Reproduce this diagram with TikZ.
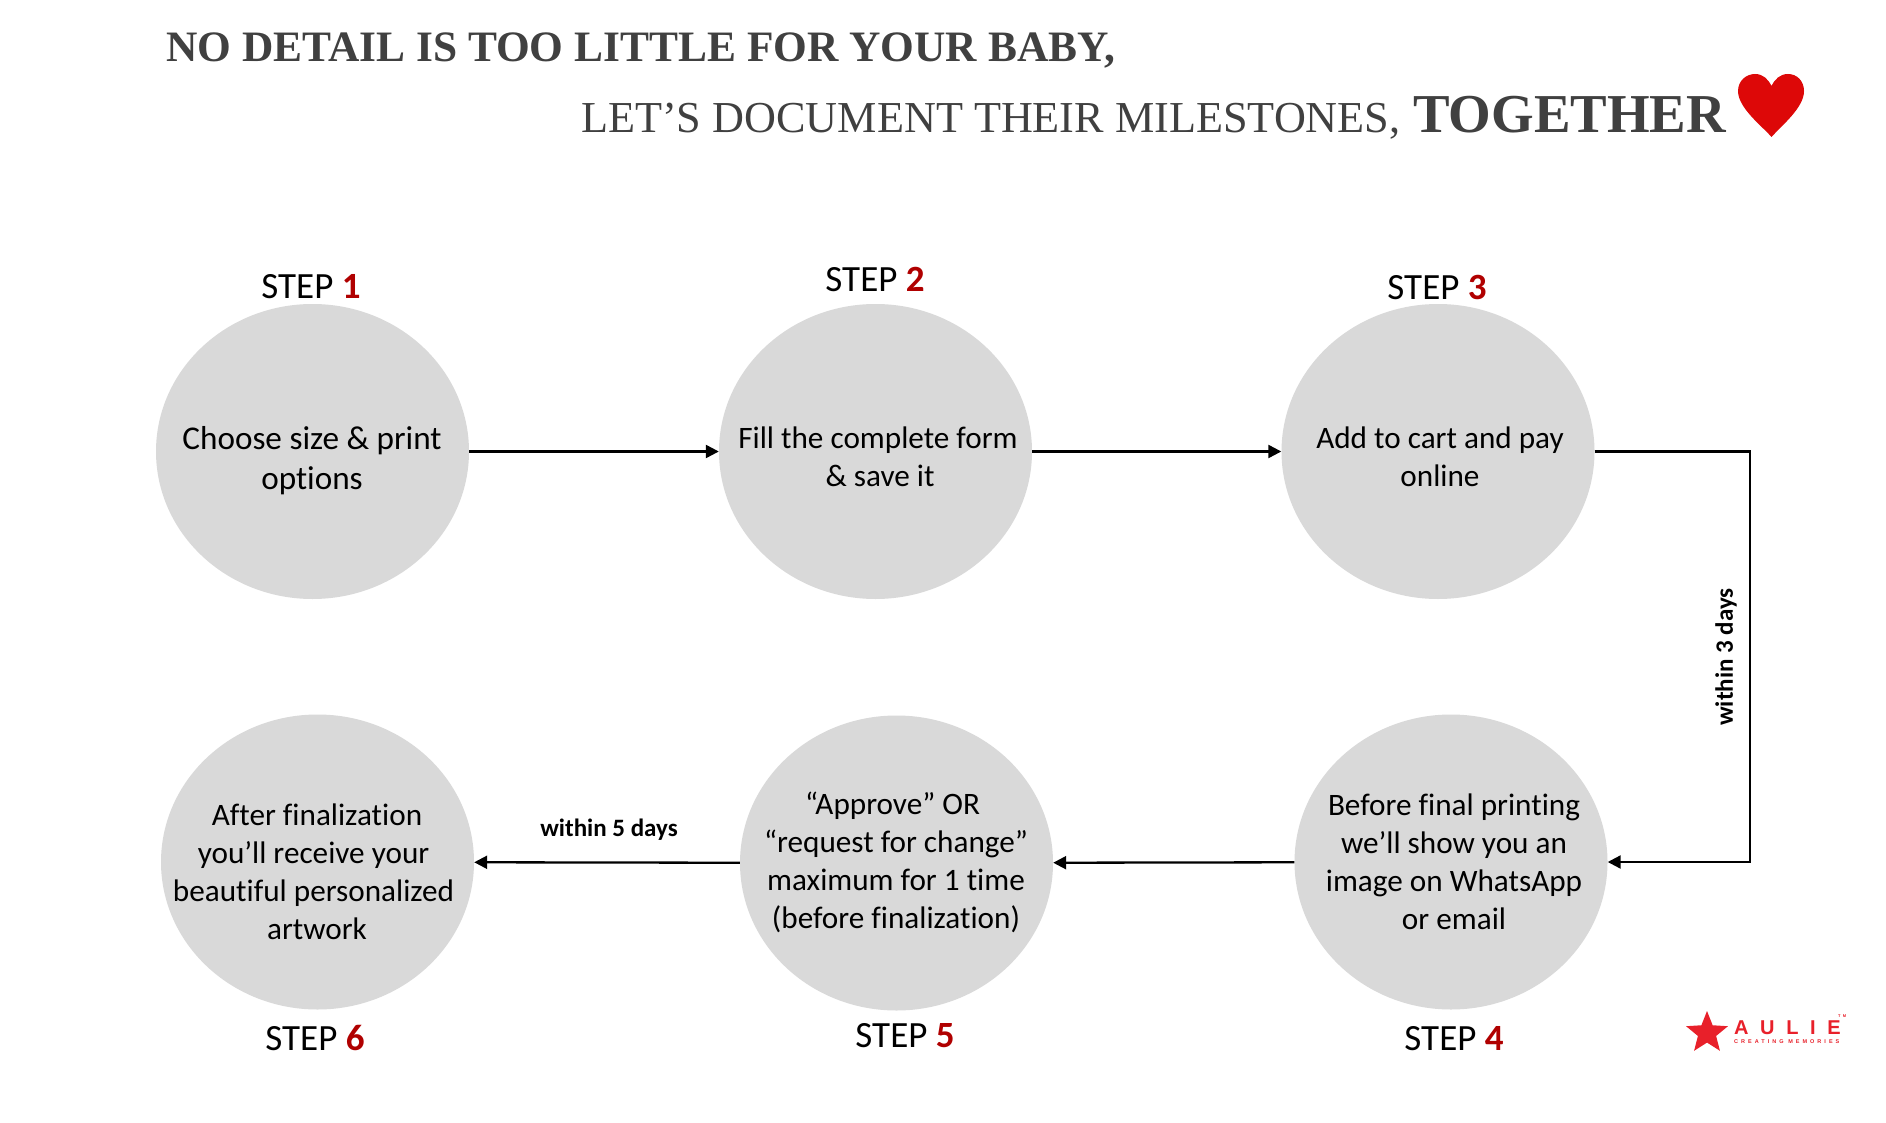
\documentclass[tikz,border=0pt]{standalone}
\usepackage{fontspec}
\setmainfont{Carlito}[Ligatures=NoCommon]
\newfontfamily\titlefont{Liberation Serif}
\newfontfamily\logofont{Liberation Sans}[LetterSpace=58]
\newfontfamily\logosmall{Liberation Sans}[LetterSpace=55]
\usetikzlibrary{shapes.geometric,arrows.meta}
\definecolor{disc}{HTML}{D9D9D9}
\definecolor{stepred}{HTML}{B00000}
\definecolor{titlegrey}{HTML}{404040}
\definecolor{heartred}{HTML}{DD0808}
\definecolor{logored}{HTML}{E8202A}
\tikzset{
  disc/.style={ellipse,fill=disc,draw=none,minimum width=313pt,minimum height=295pt,inner sep=0pt},
  body/.style={align=center,font=\fontsize{31.2}{38}\selectfont,text=black,inner sep=0pt},
  steplabel/.style={font=\fontsize{37}{40}\selectfont,text=black,inner sep=0pt},
  conn/.style={draw=black,line width=2.3pt,-{Triangle[length=13pt,width=13pt]}},
  note/.style={font=\bfseries\fontsize{25}{28}\selectfont,text=black,inner sep=0pt},
  titleline/.style={anchor=base west,inner sep=0pt,text=titlegrey}
}
\newcommand{\stepnum}[1]{\textcolor{stepred}{\bfseries #1}}
\begin{document}
\begin{tikzpicture}[x=1pt,y=-1pt]
\useasboundingbox (0,0) rectangle (1886,1123);
\fill[white] (0,0) rectangle (1886,1123);
\node[titleline,font=\titlefont\bfseries\fontsize{43.4}{50}\selectfont] (t1) at (166,61.5) {NO DETAIL IS TOO LITTLE FOR YOUR BABY,};
\node[titleline,font=\titlefont\fontsize{44.2}{50}\selectfont] (t2) at (581,133) {LET’S DOCUMENT THEIR MILESTONES,};
\node[titleline,font=\titlefont\bfseries\fontsize{54.8}{60}\selectfont] (t3) at (1413,133) {TOGETHER};
\fill[heartred] (1771.5,137) .. controls (1762,126) and (1738,108) .. (1738,91)
  .. controls (1738,81) and (1746,74) .. (1755,74)
  .. controls (1763,74) and (1768,79) .. (1771.5,86)
  .. controls (1775,79) and (1780,74) .. (1788,74)
  .. controls (1797,74) and (1804,81) .. (1804,91)
  .. controls (1804,108) and (1781,126) .. (1771.5,137) -- cycle;

\node[disc] (c1) at (312.5,451.5) {};
\node[disc] (c2) at (875.5,451.5) {};
\node[disc] (c3) at (1438,451.5) {};
\node[disc] (c4) at (1451,862) {};
\node[disc] (c5) at (896.5,863) {};
\node[disc] (c6) at (317.5,862) {};

\node[body,font=\fontsize{33.2}{40}\selectfont] (x1) at (312,461) {Choose size \& print\\options};
\node[body] (x2) at (878,457) {Fill the complete form\\\hspace*{4pt}\& save it};
\node[body] (x3) at (1440,457) {Add to cart and pay\\online};
\node[body] (x4) at (1454,862) {Before final printing\\we’ll show you an\\image on WhatsApp\\or email};
\node[body] (x5) at (896,862) {“Approve” OR\hspace*{7pt}\\“request for change”\\maximum for 1 time\\(before finalization)};
\node[body] (x6) at (313.5,871.5) {\hspace*{7pt}After finalization\\you’ll receive your\\beautiful personalized\\\hspace*{7pt}artwork};

\node[steplabel] (s1) at (311,287) {STEP \stepnum{1}};
\node[steplabel] (s2) at (875,279) {STEP \stepnum{2}};
\node[steplabel] (s3) at (1437,287) {STEP \stepnum{3}};
\node[steplabel] (s4) at (1454,1039) {STEP \stepnum{4}};
\node[steplabel] (s5) at (905,1036) {STEP \stepnum{5}};
\node[steplabel] (s6) at (315,1038) {STEP \stepnum{6}};

\coordinate (bend1) at (1750,451.5);
\coordinate (bend2) at (1750,862);
\draw[conn] (c1) -- (c2);
\draw[conn] (c2) -- (c3);
\draw[conn] (c3.east) -- (bend1) -- (bend2) -- (c4.east);
\draw[conn] (c4) -- (c5);
\draw[conn] (c5) -- (c6);
\node[note] (n5) at (609,829.5) {within 5 days};
\node[note,rotate=90] (n3) at (1726,657) {within 3 days};

\node[star,star points=5,star point ratio=2.3,fill=logored,inner sep=0pt,minimum size=44pt] (star) at (1707,1033) {};
\node[anchor=base west,inner sep=0pt,text=logored,font=\logofont\bfseries\fontsize{20}{22}\selectfont] (aulie) at (1734,1034) {AULIE};
\node[anchor=base west,inner sep=0pt,text=logored,font=\logosmall\bfseries\fontsize{5.5}{6}\selectfont] (tag) at (1734,1043) {CREATING MEMORIES};
\node[anchor=base west,inner sep=0pt,text=logored,font=\logosmall\bfseries\fontsize{4}{5}\selectfont] (tm) at (1838,1017) {TM};
\end{tikzpicture}
\end{document}
